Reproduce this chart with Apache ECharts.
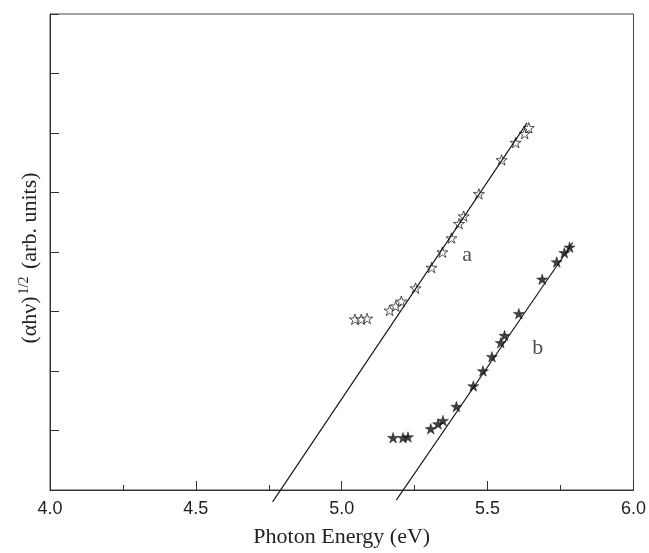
<!DOCTYPE html>
<html><head><meta charset="utf-8">
<script src="https://cdn.jsdelivr.net/npm/echarts@6/dist/echarts.min.js"></script>
<style>html,body{margin:0;padding:0;background:#fff}#c{width:649px;height:553px}</style>
</head><body><div id="c"></div>
<script>
// Photon energy (eV) and (αhν)^1/2 (arb. units)
const aEnergy = [5.045,5.067,5.087,5.164,5.185,5.204,5.253,5.308,5.345,5.376,5.402,5.418,5.470,5.548,5.596,5.627,5.641];
const aValue  = [2.870,2.870,2.882,3.019,3.090,3.172,3.393,3.739,3.997,4.234,4.475,4.602,4.977,5.547,5.839,5.988,6.087];
const bEnergy = [5.176,5.210,5.227,5.305,5.330,5.347,5.393,5.451,5.484,5.515,5.545,5.558,5.607,5.687,5.737,5.763,5.781];
const bValue  = [0.879,0.879,0.891,1.028,1.110,1.166,1.402,1.748,2.001,2.238,2.474,2.595,2.964,3.541,3.832,3.987,4.079];
const aFitEnergy = [4.763,5.635];
const aFitValue  = [-0.20,6.17];
const bFitEnergy = [5.187,5.792];
const bFitValue  = [-0.17,4.16];
const xTicks = [4.0,4.5,5.0,5.5,6.0];
const curveLabels = ['a','b'];
const curveLabelPos = [[5.430,3.942],[5.672,2.375]];

const star = 'path://M50,0 L61.2,34.5 L97.6,34.5 L68.2,55.9 L79.4,90.5 L50,69.1 L20.6,90.5 L31.8,55.9 L2.4,34.5 L38.8,34.5 Z';
const zip = (xs, ys) => xs.map((x,i)=>[x, ys[i]]);
const serif = '"Liberation Serif", "DejaVu Serif", serif';
const sans = '"Liberation Sans", Arial, sans-serif';

const chart = echarts.init(document.getElementById('c'), null, {renderer:'canvas'});
chart.setOption({
  animation:false,
  backgroundColor:'#fff',
  grid:{left:50,right:15,top:14,bottom:54,show:true,borderColor:'#444',borderWidth:1},
  xAxis:{
    type:'value', min:xTicks[0], max:xTicks[xTicks.length-1], interval:0.5,
    axisLine:{show:true,lineStyle:{color:'#333',width:1}},
    axisTick:{show:true,inside:true,length:9,lineStyle:{color:'#333'}},
    minorTick:{show:true,splitNumber:2,length:5,lineStyle:{color:'#333'}},
    splitLine:{show:false},
    axisLabel:{fontFamily:sans,fontSize:18,color:'#222',margin:10,formatter:v=>v.toFixed(1)},
    name:'Photon Energy (eV)', nameLocation:'middle', nameGap:36,
    nameTextStyle:{fontFamily:serif,fontSize:22,color:'#222'}
  },
  yAxis:{
    type:'value', min:0, max:8, interval:1,
    axisLine:{show:true,lineStyle:{color:'#333',width:1}},
    axisTick:{show:true,inside:true,length:9,lineStyle:{color:'#333'}},
    axisLabel:{show:false}, splitLine:{show:false}
  },
  graphic:[{
    type:'text', x:30, y:258, rotation:Math.PI/2,
    style:{
      text:'(αhν){sup|1/2} (arb. units)',
      fontFamily:serif, fontSize:22, fill:'#222', align:'center', verticalAlign:'middle',
      rich:{sup:{fontFamily:serif,fontSize:14,fill:'#222',padding:[0,2,12,2]}}
    }
  }],
  series:[
    {type:'scatter', data:zip(aEnergy,aValue), symbol:star, symbolSize:[11,10.5],
     itemStyle:{color:'#fff',borderColor:'#111',borderWidth:0.9}, z:2},
    {type:'scatter', data:zip(bEnergy,bValue), symbol:star, symbolSize:[11,10.5],
     itemStyle:{color:'#111',borderColor:'#111',borderWidth:0.6}, z:2},
    {type:'line', data:zip(aFitEnergy,aFitValue), showSymbol:false, clip:false,
     lineStyle:{color:'#111',width:1.1}, z:3},
    {type:'line', data:zip(bFitEnergy,bFitValue), showSymbol:false, clip:false,
     lineStyle:{color:'#111',width:1.1}, z:3},
    {type:'scatter', symbolSize:0, silent:true,
     data:curveLabels.map((n,i)=>({name:n,value:curveLabelPos[i]})),
     label:{show:true,position:'inside',formatter:'{b}',fontFamily:serif,fontSize:22,color:'#222'}}
  ]
});
</script></body></html>
